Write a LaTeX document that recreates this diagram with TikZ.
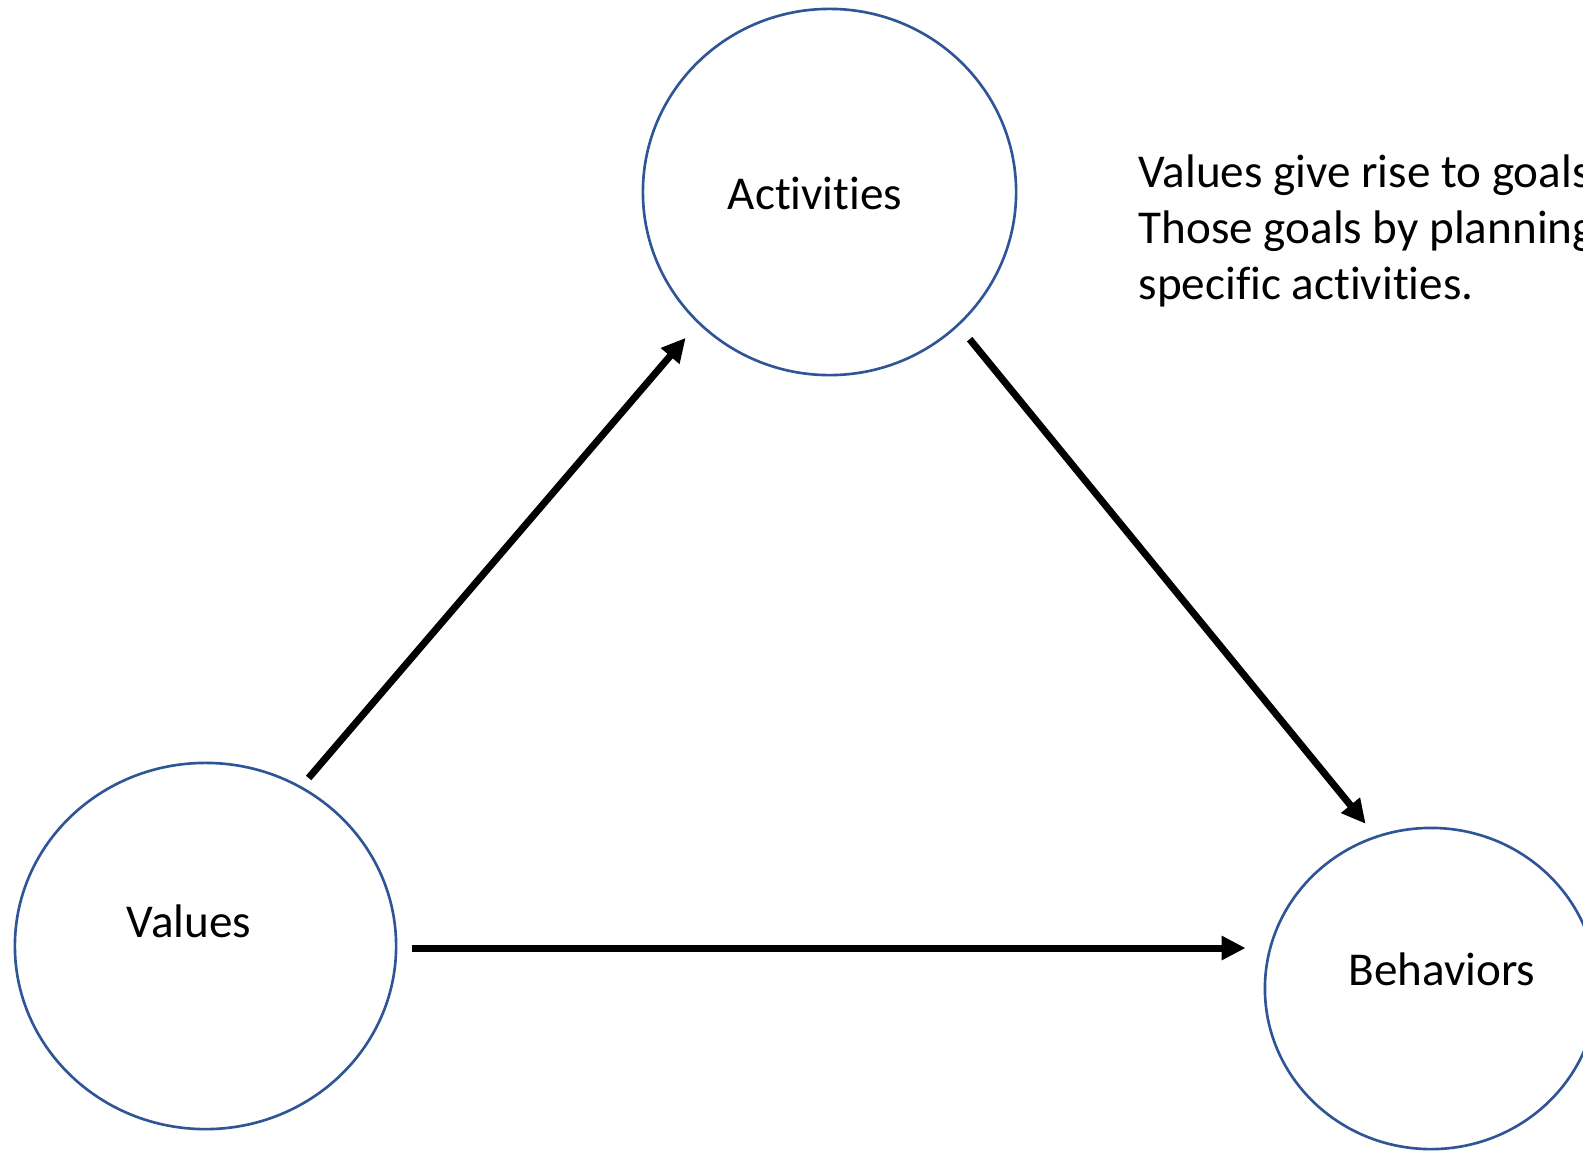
\documentclass[tikz,border=0pt]{standalone}
\usepackage{fontspec}
\setmainfont{Carlito}[Ligatures=NoCommon]
\usetikzlibrary{shapes.geometric,arrows.meta}
\definecolor{ringblue}{RGB}{47,85,151}
\begin{document}
\begin{tikzpicture}[x=0.01cm,y=-0.01cm,
  ring/.style={ellipse,draw=ringblue,line width=0.75pt,inner sep=0pt},
  lbl/.style={font=\fontsize{13.4pt}{15.9pt}\selectfont,inner sep=0pt,anchor=base},
  flow/.style={line width=2pt,-{Triangle[length=0.24cm,width=0.23cm]}}]
\useasboundingbox (0,0) rectangle (1583,1151);
\clip (0,0) rectangle (1583,1151);
\fill[white] (0,0) rectangle (1583,1151);

% the three rings
\node[ring,minimum width=3.81cm,minimum height=3.66cm] (vals) at (205.5,946) {};
\node[ring,minimum width=3.73cm,minimum height=3.66cm] (act) at (829.5,192) {};
\node[ring,minimum width=3.32cm,minimum height=3.21cm] (beh) at (1431,988.5) {};

% their labels
\node[lbl] (tv) at (189,937) {Values};
\node[lbl] (ta) at (815,209) {Activities};
\node[lbl] (tb) at (1442,985) {Behaviors};

% side note (anchored at the baseline of its last line)
\node[lbl,anchor=base west,align=left] (note) at (1138,299)
  {Values give rise to goals\\Those goals by planning\\specific activities.};

% arrows
\draw[flow,shorten <=0.11cm,shorten >=0.187cm] (vals.59.8) -- (act.225.1);
\draw[flow,shorten <=0.172cm,shorten >=0.155cm] (act.314.5) -- (beh.110.8);
\draw[flow] ([xshift=0.15cm,yshift=-0.02cm]vals.east) -- ([xshift=-0.18cm,yshift=-0.02cm]vals.east -| beh.west);
\end{tikzpicture}
\end{document}
